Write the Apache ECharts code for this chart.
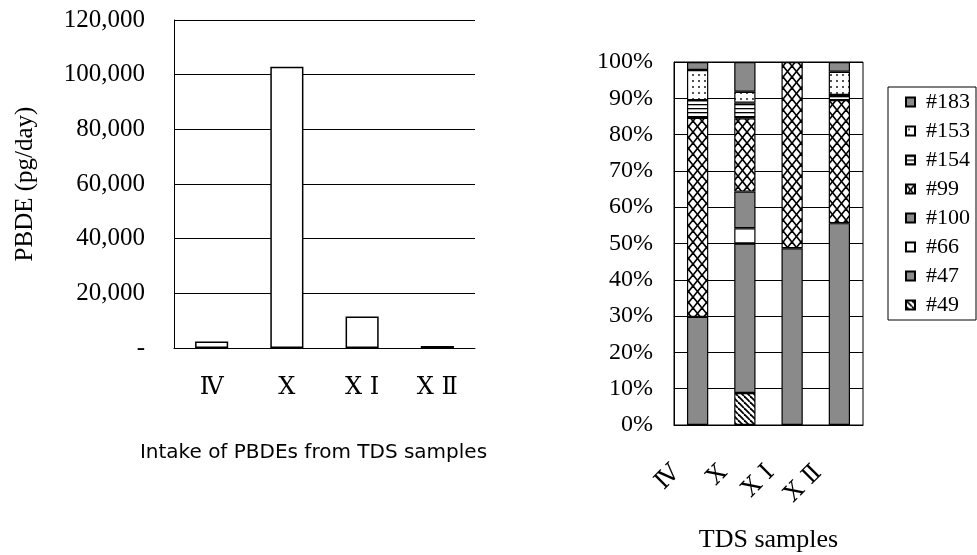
<!DOCTYPE html>
<html>
<head>
<meta charset="utf-8">
<script src="https://cdn.jsdelivr.net/npm/echarts@6/dist/echarts.min.js"></script>
<style>
  html, body { margin: 0; padding: 0; background: #ffffff; }
  #chart { width: 977px; height: 555px; }
</style>
</head>
<body>
<div id="chart"></div>
<script>
// Sample rounds (Roman numerals) shared by both panels
const samples = ['Ⅳ', 'Ⅹ', 'Ⅹ Ⅰ', 'Ⅹ Ⅱ'];

// Left panel: total PBDE intake, pg/day
const intake = [2400, 102900, 11500, 700];
const intakeTicks = [0, 20000, 40000, 60000, 80000, 100000, 120000];

// Right panel: congener share of each sample, % (stack order bottom -> top)
const congeners = ['#49', '#47', '#66', '#100', '#99', '#154', '#153', '#183'];
const share49  = [0,    8.8,  0,    0];
const share47  = [29.8, 41.2, 48.7, 55.6];
const share66  = [0,    4.2,  0,    0];
const share100 = [0,    10.1, 0,    0];
const share99  = [54.8, 20.2, 51.3, 33.9];
const share154 = [4.9,  4.3,  0,    1.4];
const share153 = [8.3,  3.0,  0,    6.4];
const share183 = [2.2,  8.2,  0,    2.7];
const shares = [share49, share47, share66, share100, share99, share154, share153, share183];

const SERIF = "'Liberation Serif', 'DejaVu Serif', serif";
const NUMERAL_FONT = "'DejaVu Serif', 'Liberation Serif', serif";

// ---- fill patterns for the congener bars ----
function tile(w, h, draw) {
  const c = document.createElement('canvas');
  c.width = w; c.height = h;
  const g = c.getContext('2d');
  g.fillStyle = '#ffffff';
  g.fillRect(0, 0, w, h);
  draw(g, w, h);
  return { image: c, repeat: 'repeat' };
}
const GRAY = '#8a8a8a';
const patterns = {
  '#49': tile(6, 6, (g, w, h) => {
    g.strokeStyle = '#000'; g.lineWidth = 1.8;
    for (let k = -1; k <= 1; k++) {
      g.beginPath(); g.moveTo(k * w, 0); g.lineTo(k * w + w, h); g.stroke();
    }
  }),
  '#47': GRAY,
  '#66': '#ffffff',
  '#100': GRAY,
  '#99': tile(9, 11, (g, w, h) => {
    g.strokeStyle = '#000'; g.lineWidth = 1.7;
    for (let k = -1; k <= 1; k++) {
      g.beginPath(); g.moveTo(k * w, 0); g.lineTo(k * w + w, h); g.stroke();
      g.beginPath(); g.moveTo(k * w + w, 0); g.lineTo(k * w, h); g.stroke();
    }
  }),
  '#154': tile(4, 4, (g, w) => {
    g.fillStyle = '#000'; g.fillRect(0, 0, w, 1.3);
  }),
  '#153': tile(6, 6, (g) => {
    g.fillStyle = '#000'; g.beginPath(); g.arc(3, 3, 0.9, 0, Math.PI * 2); g.fill();
  }),
  '#183': GRAY
};

const chart = echarts.init(document.getElementById('chart'), null, { renderer: 'canvas' });

// empty segments are left out so they draw no outline
const stackSeries = congeners.map((name, i) => ({
  name: name,
  type: 'bar',
  stack: 'share',
  xAxisIndex: 1,
  yAxisIndex: 1,
  barWidth: '45%',
  data: shares[i].map(v => (v === 0 ? '-' : v)),
  itemStyle: { color: patterns[name], borderColor: '#000', borderWidth: 1.2 },
  emphasis: { disabled: true }
}));

const option = {
  animation: false,
  backgroundColor: '#ffffff',
  grid: [
    { left: 174, right: 502, top: 20, bottom: 207, outerBoundsMode: 'none' },
    { left: 674, right: 114, top: 62, bottom: 130, outerBoundsMode: 'none',
      show: true, borderColor: '#000', borderWidth: 1 }
  ],
  legend: {
    orient: 'vertical',
    left: 888,
    top: 87,
    padding: [4, 6, 4, 17],
    itemWidth: 9,
    itemHeight: 9,
    itemGap: 7,
    borderColor: '#000',
    borderWidth: 1,
    selectedMode: false,
    data: congeners.slice().reverse().map(n => ({ name: n, icon: 'rect' })),
    textStyle: { fontFamily: SERIF, fontSize: 22, color: '#000', lineHeight: 22, padding: [0, 0, 0, 6] }
  },
  xAxis: [
    {
      gridIndex: 0,
      type: 'category',
      data: samples,
      name: 'Intake of PBDEs from TDS samples',
      nameLocation: 'middle',
      nameGap: 95,
      nameTextStyle: { fontFamily: "'DejaVu Sans', sans-serif", fontSize: 20, color: '#000', padding: [0, 22, 0, 0] },
      axisLine: { lineStyle: { color: '#000', width: 1 } },
      axisTick: { inside: true, length: 6, lineStyle: { color: '#000' } },
      axisLabel: { fontFamily: NUMERAL_FONT, fontSize: 24, color: '#000', margin: 28 }
    },
    {
      gridIndex: 1,
      type: 'category',
      data: samples,
      name: 'TDS samples',
      nameLocation: 'middle',
      nameGap: 102,
      nameTextStyle: { fontFamily: SERIF, fontSize: 26, color: '#000' },
      axisLine: { lineStyle: { color: '#000', width: 1 } },
      axisTick: { inside: true, length: 6, lineStyle: { color: '#000' } },
      axisLabel: { fontFamily: NUMERAL_FONT, fontSize: 24, color: '#000', rotate: 45, margin: 23, padding: [0, 30, 0, 0] }
    }
  ],
  yAxis: [
    {
      gridIndex: 0,
      type: 'value',
      min: intakeTicks[0],
      max: intakeTicks[intakeTicks.length - 1],
      interval: intakeTicks[1] - intakeTicks[0],
      name: 'PBDE (pg/day)',
      nameLocation: 'middle',
      nameGap: 136,
      nameRotate: 90,
      nameTextStyle: { fontFamily: SERIF, fontSize: 25, color: '#000' },
      axisLine: { show: true, lineStyle: { color: '#000', width: 1 } },
      axisTick: { show: false },
      axisLabel: {
        fontFamily: SERIF, fontSize: 25, color: '#000', margin: 29,
        formatter: v => (v === 0 ? '-' : v.toLocaleString('en-US'))
      },
      splitLine: { show: true, lineStyle: { color: '#000', width: 1 } }
    },
    {
      gridIndex: 1,
      type: 'value',
      min: 0,
      max: 100,
      interval: 10,
      axisLine: { show: true, lineStyle: { color: '#000', width: 1 } },
      axisTick: { show: false },
      axisLabel: { fontFamily: SERIF, fontSize: 24, color: '#000', margin: 21, formatter: '{value}%' },
      splitLine: { show: true, lineStyle: { color: '#000', width: 1 } }
    }
  ],
  series: [
    {
      name: 'PBDE intake',
      type: 'bar',
      xAxisIndex: 0,
      yAxisIndex: 0,
      barWidth: '44%',
      data: intake,
      itemStyle: { color: '#ffffff', borderColor: '#000', borderWidth: 1.5 },
      emphasis: { disabled: true }
    }
  ].concat(stackSeries)
};

chart.setOption(option);
</script>
</body>
</html>
